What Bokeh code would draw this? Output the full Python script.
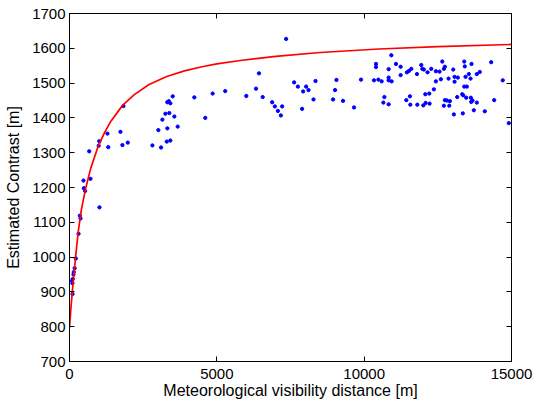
from bokeh.plotting import figure
from bokeh.models import LinearAxis, FixedTicker, Range1d, ColumnDataSource
from bokeh.embed import file_html
from bokeh.resources import INLINE

# Fitted model curve
curve_x = [0, 50, 100, 200, 300, 400, 550, 720, 950, 1180, 1400, 1800, 2200, 2700,
           3300, 3900, 4500, 5000, 5800, 7000, 8500, 10500, 12500, 15000]
curve_y = [797, 855, 905, 995, 1075, 1135, 1198, 1255, 1313, 1356, 1390, 1436, 1467, 1496,
           1519, 1535, 1547, 1555, 1565, 1577, 1588, 1598, 1605, 1611]

# Measured points
vis = [102, 85, 100, 110, 135, 145, 175, 216, 306, 352, 374, 475, 488, 530, 668, 712,
       990, 1010, 1017, 1288, 1316, 1729, 1796, 1830, 1978,
       2813, 3016, 3107, 3152, 3254, 3300, 3320, 3320, 3368, 3422, 3388, 3422, 3503, 3558,
       3672, 4235, 4608, 4858, 5285,
       6000, 6329, 6431, 6556, 6878, 6970, 7071, 7173, 7217, 7352, 7623, 7750, 7894, 7928,
       8030, 8111, 8281, 8349, 8945, 9013, 9060, 9283, 9656, 9893, 10334, 10401, 10401,
       10482, 10594, 10652, 10686, 10831, 10831, 10831, 10831,
       10922, 10932, 11078, 11237, 11237, 11430, 11451, 11519, 11553, 11566, 11600, 11790,
       11803, 11939, 11973, 12007, 12027, 12075, 12085, 12152, 12210, 12220, 12277, 12366,
       12434, 12434, 12559, 12603, 12651, 12705, 12739, 12705, 12739, 12807, 12864, 12888,
       12908, 13023, 13044, 13067, 13067, 13158, 13179, 13328, 13362, 13348, 13396, 13416,
       13396, 13484, 13440, 13463, 13552, 13610, 13620, 13643, 13633, 13677, 13721, 13823,
       13823, 13925, 14094, 14311, 14413, 14704, 14908]
contrast = [894, 932, 925, 937, 950, 957, 968, 996, 1067, 1119, 1111, 1220, 1198, 1190, 1304, 1225,
            1320, 1333, 1143, 1355, 1316, 1360, 1322, 1434, 1329,
            1321, 1365, 1315, 1395, 1412, 1332, 1370, 1445, 1448, 1442, 1414, 1335, 1462, 1404,
            1375, 1459, 1400, 1470, 1477,
            1463, 1484, 1528, 1460, 1445, 1433, 1420, 1407, 1433, 1627, 1502, 1490, 1426, 1476,
            1490, 1480, 1453, 1506, 1453, 1480, 1509, 1449, 1430, 1510, 1508, 1555, 1546,
            1510, 1505, 1444, 1460, 1540, 1516, 1508, 1439,
            1580, 1505, 1555, 1547, 1523, 1451, 1531, 1535, 1462, 1438, 1541, 1526,
            1438, 1552, 1541, 1436, 1539, 1468, 1443, 1531, 1470, 1441, 1541, 1482,
            1534, 1505, 1533, 1511, 1562, 1541, 1547, 1435, 1451, 1450, 1513, 1435,
            1448, 1539, 1410, 1518, 1504, 1460, 1516, 1468, 1465, 1413, 1562, 1548,
            1490, 1490, 1518, 1458, 1526, 1513, 1458, 1555, 1446, 1450, 1422, 1526,
            1444, 1532, 1419, 1560, 1451, 1508, 1385]

x_ticks = [0, 5000, 10000, 15000]
y_ticks = [700, 800, 900, 1000, 1100, 1200, 1300, 1400, 1500, 1600, 1700]

FONT = "Liberation Sans"

p = figure(width=534, height=405, x_range=Range1d(0, 15000), y_range=Range1d(700, 1700),
           output_backend="svg", toolbar_location=None,
           min_border_left=69, min_border_right=23, min_border_top=13, min_border_bottom=44,
           x_axis_label="Meteorological visibility distance [m]",
           y_axis_label="Estimated Contrast [m]")
p.grid.visible = False
p.outline_line_color = "black"
p.outline_line_width = 1
p.background_fill_color = "white"
p.border_fill_color = "white"

src = ColumnDataSource(dict(x=vis, y=contrast))
p.scatter("x", "y", source=src, size=3.3, marker="circle",
          fill_color="#0000ff", line_color="#0000ff")
p.line(curve_x, curve_y, line_color="#ff0000", line_width=1.7)

for ax in (p.xaxis[0], p.yaxis[0]):
    ax.major_tick_in = 5
    ax.major_tick_out = 0
    ax.minor_tick_in = 0
    ax.minor_tick_out = 0
    ax.axis_line_color = "black"
    ax.major_tick_line_color = "black"
    ax.major_label_text_font = FONT
    ax.major_label_text_font_size = "15px"
    ax.major_label_text_color = "black"
    ax.axis_label_text_font = FONT
    ax.axis_label_text_font_size = "16px"
    ax.axis_label_text_font_style = "normal"
    ax.axis_label_text_color = "black"

p.xaxis[0].ticker = FixedTicker(ticks=x_ticks)
p.yaxis[0].ticker = FixedTicker(ticks=y_ticks)
p.xaxis[0].major_label_standoff = 7
p.xaxis[0].axis_label_standoff = 0
p.yaxis[0].major_label_standoff = 4
p.yaxis[0].axis_label_standoff = 7

top = LinearAxis(ticker=FixedTicker(ticks=x_ticks), major_tick_in=5, major_tick_out=0,
                 minor_tick_in=0, minor_tick_out=0, major_label_text_font_size="1px",
                 major_label_text_color=None, major_label_standoff=0,
                 axis_line_color="black")
right = LinearAxis(ticker=FixedTicker(ticks=y_ticks), major_tick_in=5, major_tick_out=0,
                   minor_tick_in=0, minor_tick_out=0, major_label_text_font_size="1px",
                   major_label_text_color=None, major_label_standoff=0,
                   axis_line_color="black")
p.add_layout(top, "above")
p.add_layout(right, "right")

open("out.html", "w").write(file_html(p, INLINE))
